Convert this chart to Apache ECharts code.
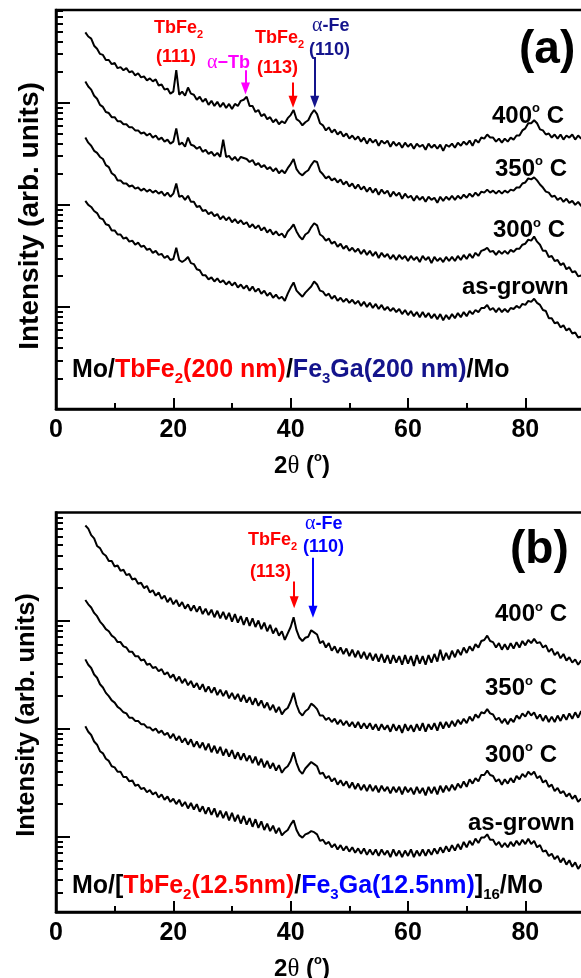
<!DOCTYPE html>
<html><head><meta charset="utf-8">
<script src="https://cdn.jsdelivr.net/npm/echarts@6/dist/echarts.min.js"></script>
<style>html,body{margin:0;padding:0;background:#fff;}#c{width:581px;height:978px;}</style>
</head><body><div id="c"></div>
<script>
// 2theta scan grid (degrees)
const twoTheta = [5,5.5,6,6.5,7,7.5,8,8.5,9,9.5,10,10.5,11,11.5,12,12.5,13,13.5,14,14.5,15,15.5,16,16.5,17,17.5,18,18.5,19,19.5,20,20.5,21,21.5,22,22.5,23,23.5,24,24.5,25,25.5,26,26.5,27,27.5,28,28.5,29,29.5,30,30.5,31,31.5,32,32.5,33,33.5,34,34.5,35,35.5,36,36.5,37,37.5,38,38.5,39,39.5,40,40.5,41,41.5,42,42.5,43,43.5,44,44.5,45,45.5,46,46.5,47,47.5,48,48.5,49,49.5,50,50.5,51,51.5,52,52.5,53,53.5,54,54.5,55,55.5,56,56.5,57,57.5,58,58.5,59,59.5,60,60.5,61,61.5,62,62.5,63,63.5,64,64.5,65,65.5,66,66.5,67,67.5,68,68.5,69,69.5,70,70.5,71,71.5,72,72.5,73,73.5,74,74.5,75,75.5,76,76.5,77,77.5,78,78.5,79,79.5,80,80.5,81,81.5,82,82.5,83,83.5,84,84.5,85,85.5,86,86.5,87,87.5,88,88.5,89,89.5,90];

// Panel (a): log10 intensity (offset curves)
const a400 = [3.69,3.65,3.63,3.56,3.53,3.48,3.47,3.42,3.42,3.38,3.39,3.34,3.35,3.32,3.34,3.30,3.31,3.27,3.29,3.25,3.26,3.22,3.24,3.21,3.23,3.17,3.18,3.13,3.14,3.09,3.11,3.32,3.08,3.11,3.07,3.15,3.09,3.08,3.03,3.06,3.01,3.04,2.98,3.02,2.97,3.01,2.96,3.00,2.95,2.99,2.94,2.99,2.97,3.02,3.03,3.06,2.97,2.97,2.91,2.93,2.87,2.89,2.84,2.86,2.81,2.84,2.79,2.82,2.80,2.85,2.88,2.93,2.84,2.82,2.78,2.81,2.83,2.89,2.93,2.89,2.80,2.78,2.73,2.76,2.71,2.74,2.69,2.72,2.67,2.70,2.65,2.68,2.64,2.67,2.62,2.66,2.60,2.65,2.61,2.64,2.58,2.63,2.60,2.63,2.57,2.62,2.58,2.61,2.56,2.61,2.57,2.60,2.55,2.60,2.57,2.59,2.54,2.60,2.56,2.59,2.55,2.59,2.53,2.59,2.57,2.60,2.56,2.61,2.58,2.62,2.59,2.63,2.58,2.64,2.61,2.66,2.65,2.69,2.66,2.66,2.62,2.65,2.61,2.65,2.62,2.66,2.64,2.68,2.68,2.73,2.75,2.80,2.80,2.83,2.80,2.74,2.73,2.69,2.70,2.66,2.69,2.65,2.69,2.64,2.68,2.66,2.69,2.64,2.68,2.65,2.67];
const a350 = [3.21,3.16,3.13,3.07,3.04,2.98,2.96,2.91,2.90,2.86,2.86,2.82,2.82,2.79,2.79,2.76,2.76,2.73,2.73,2.70,2.71,2.68,2.70,2.66,2.68,2.64,2.66,2.62,2.64,2.60,2.62,2.75,2.59,2.61,2.57,2.66,2.59,2.58,2.55,2.57,2.52,2.54,2.50,2.52,2.48,2.51,2.47,2.64,2.47,2.48,2.44,2.47,2.43,2.47,2.46,2.45,2.42,2.44,2.39,2.41,2.37,2.39,2.35,2.37,2.33,2.36,2.31,2.34,2.31,2.36,2.40,2.45,2.35,2.31,2.29,2.32,2.34,2.39,2.43,2.42,2.33,2.30,2.26,2.28,2.24,2.26,2.22,2.25,2.20,2.23,2.18,2.21,2.16,2.20,2.15,2.18,2.13,2.17,2.12,2.16,2.10,2.15,2.11,2.14,2.08,2.13,2.09,2.12,2.06,2.11,2.07,2.09,2.04,2.09,2.05,2.08,2.03,2.08,2.05,2.07,2.02,2.08,2.04,2.08,2.05,2.09,2.05,2.09,2.06,2.10,2.07,2.11,2.08,2.12,2.09,2.13,2.12,2.15,2.12,2.14,2.11,2.14,2.11,2.14,2.12,2.15,2.14,2.17,2.17,2.21,2.22,2.26,2.25,2.27,2.24,2.20,2.17,2.13,2.12,2.08,2.09,2.05,2.07,2.03,2.06,2.02,2.04,2.00,2.03,1.99,2.01];
const a300 = [2.66,2.61,2.58,2.53,2.51,2.47,2.45,2.39,2.37,2.31,2.29,2.24,2.24,2.21,2.21,2.18,2.19,2.16,2.17,2.14,2.16,2.13,2.15,2.12,2.14,2.11,2.13,2.09,2.12,2.08,2.11,2.21,2.08,2.09,2.05,2.09,2.03,2.03,1.98,1.99,1.94,1.95,1.91,1.93,1.89,1.91,1.86,1.89,1.85,1.88,1.83,1.86,1.82,1.85,1.81,1.83,1.78,1.81,1.77,1.80,1.75,1.78,1.73,1.76,1.71,1.74,1.70,1.72,1.68,1.74,1.77,1.81,1.74,1.69,1.66,1.71,1.73,1.78,1.82,1.80,1.71,1.69,1.65,1.67,1.62,1.64,1.59,1.62,1.57,1.60,1.55,1.58,1.54,1.57,1.52,1.56,1.51,1.55,1.50,1.54,1.48,1.53,1.49,1.52,1.47,1.51,1.46,1.51,1.47,1.50,1.45,1.50,1.46,1.49,1.44,1.50,1.46,1.49,1.43,1.49,1.45,1.48,1.44,1.49,1.45,1.49,1.45,1.50,1.46,1.51,1.47,1.52,1.48,1.53,1.50,1.55,1.56,1.58,1.54,1.55,1.51,1.55,1.52,1.55,1.52,1.56,1.54,1.57,1.57,1.61,1.62,1.66,1.65,1.69,1.64,1.61,1.55,1.55,1.49,1.50,1.45,1.46,1.41,1.43,1.37,1.39,1.34,1.35,1.30,1.31,1.28];
const aAsGrown = [2.04,2.00,1.98,1.94,1.92,1.87,1.86,1.81,1.80,1.75,1.75,1.71,1.71,1.67,1.68,1.64,1.65,1.61,1.63,1.59,1.60,1.56,1.57,1.53,1.55,1.51,1.52,1.48,1.50,1.46,1.47,1.58,1.46,1.44,1.46,1.49,1.43,1.42,1.37,1.36,1.31,1.31,1.27,1.29,1.25,1.28,1.24,1.26,1.22,1.25,1.21,1.24,1.19,1.22,1.18,1.21,1.16,1.20,1.15,1.18,1.13,1.16,1.11,1.14,1.09,1.12,1.08,1.10,1.06,1.13,1.19,1.24,1.16,1.13,1.10,1.14,1.17,1.20,1.25,1.22,1.16,1.15,1.11,1.13,1.08,1.11,1.06,1.09,1.05,1.08,1.04,1.07,1.03,1.06,1.01,1.05,1.00,1.04,0.99,1.03,0.98,1.02,0.97,1.00,0.96,0.99,0.95,0.98,0.93,0.97,0.92,0.96,0.91,0.95,0.90,0.95,0.90,0.94,0.89,0.93,0.88,0.93,0.87,0.92,0.88,0.93,0.89,0.94,0.90,0.95,0.91,0.96,0.93,0.97,0.95,0.99,0.99,1.02,0.97,0.99,0.95,0.99,0.95,0.98,0.95,0.99,0.98,1.01,0.99,1.03,1.02,1.06,1.05,1.08,1.04,1.02,0.97,0.96,0.89,0.89,0.84,0.85,0.80,0.82,0.77,0.79,0.74,0.75,0.70,0.71,0.67];

// Panel (b): log10 intensity (offset curves)
const b400 = [2.88,2.85,2.79,2.76,2.69,2.67,2.62,2.60,2.55,2.55,2.50,2.51,2.46,2.47,2.42,2.43,2.38,2.39,2.34,2.35,2.30,2.32,2.26,2.28,2.23,2.26,2.20,2.23,2.17,2.21,2.15,2.19,2.13,2.17,2.11,2.15,2.09,2.14,2.08,2.13,2.06,2.11,2.05,2.10,2.03,2.09,2.02,2.08,2.01,2.07,1.99,2.06,1.98,2.04,1.96,2.03,1.95,2.02,1.94,2.00,1.92,1.98,1.90,1.96,1.88,1.93,1.86,1.90,1.82,1.88,1.94,2.03,1.91,1.84,1.81,1.84,1.85,1.91,1.89,1.87,1.79,1.81,1.75,1.79,1.72,1.76,1.70,1.75,1.69,1.74,1.67,1.73,1.66,1.72,1.65,1.71,1.64,1.70,1.63,1.69,1.62,1.69,1.61,1.68,1.60,1.68,1.61,1.67,1.59,1.68,1.60,1.67,1.58,1.68,1.60,1.67,1.59,1.68,1.61,1.69,1.62,1.73,1.63,1.70,1.64,1.72,1.66,1.73,1.68,1.75,1.70,1.76,1.72,1.78,1.75,1.81,1.82,1.86,1.81,1.80,1.75,1.79,1.73,1.78,1.73,1.79,1.74,1.80,1.75,1.81,1.77,1.82,1.79,1.83,1.79,1.80,1.75,1.77,1.71,1.74,1.68,1.71,1.65,1.69,1.63,1.66,1.61,1.64,1.59,1.63,1.58];
const b350 = [2.19,2.15,2.12,2.07,2.04,1.99,1.96,1.92,1.90,1.86,1.84,1.80,1.80,1.76,1.75,1.71,1.71,1.67,1.67,1.63,1.64,1.59,1.60,1.56,1.57,1.53,1.55,1.50,1.52,1.47,1.50,1.44,1.48,1.42,1.46,1.40,1.44,1.38,1.42,1.36,1.41,1.34,1.39,1.33,1.38,1.31,1.36,1.30,1.35,1.28,1.33,1.27,1.32,1.25,1.31,1.24,1.29,1.22,1.28,1.21,1.26,1.19,1.24,1.17,1.22,1.15,1.20,1.13,1.17,1.19,1.25,1.33,1.22,1.15,1.12,1.16,1.18,1.23,1.21,1.18,1.12,1.12,1.08,1.10,1.06,1.09,1.04,1.08,1.03,1.07,1.02,1.06,1.01,1.06,1.00,1.05,1.00,1.05,0.99,1.04,0.98,1.04,0.99,1.03,0.97,1.04,0.98,1.03,0.96,1.04,0.98,1.03,0.97,1.04,0.98,1.05,0.97,1.04,0.99,1.05,0.98,1.06,1.00,1.06,1.01,1.07,1.02,1.08,1.04,1.09,1.05,1.11,1.07,1.13,1.10,1.15,1.14,1.18,1.14,1.13,1.08,1.10,1.05,1.09,1.04,1.09,1.06,1.12,1.09,1.14,1.11,1.16,1.12,1.15,1.09,1.13,1.07,1.12,1.06,1.11,1.06,1.12,1.07,1.13,1.08,1.14,1.09,1.15,1.10,1.16,1.11];
const b300 = [1.64,1.59,1.56,1.50,1.47,1.41,1.38,1.33,1.30,1.26,1.24,1.20,1.18,1.15,1.14,1.10,1.10,1.07,1.07,1.04,1.04,1.01,1.01,0.98,1.00,0.96,0.98,0.94,0.96,0.91,0.95,0.89,0.93,0.87,0.91,0.85,0.90,0.83,0.88,0.82,0.87,0.80,0.86,0.78,0.84,0.77,0.83,0.75,0.81,0.74,0.80,0.72,0.78,0.71,0.77,0.70,0.75,0.68,0.74,0.66,0.72,0.64,0.70,0.63,0.68,0.61,0.66,0.59,0.63,0.65,0.70,0.78,0.68,0.61,0.58,0.63,0.66,0.69,0.67,0.65,0.58,0.59,0.54,0.56,0.51,0.54,0.48,0.52,0.47,0.51,0.45,0.50,0.44,0.49,0.43,0.48,0.42,0.48,0.42,0.47,0.41,0.47,0.42,0.46,0.40,0.46,0.41,0.46,0.39,0.46,0.41,0.45,0.39,0.46,0.40,0.45,0.38,0.46,0.40,0.46,0.39,0.47,0.41,0.47,0.42,0.48,0.43,0.49,0.45,0.51,0.46,0.53,0.49,0.54,0.51,0.57,0.57,0.61,0.57,0.56,0.51,0.53,0.48,0.53,0.49,0.54,0.50,0.56,0.53,0.58,0.55,0.60,0.57,0.60,0.54,0.56,0.50,0.52,0.46,0.48,0.42,0.45,0.40,0.42,0.37,0.40,0.35,0.38,0.32,0.35,0.31];
const bAsGrown = [1.02,0.97,0.94,0.88,0.85,0.79,0.77,0.72,0.70,0.65,0.64,0.60,0.60,0.55,0.55,0.51,0.52,0.47,0.48,0.44,0.45,0.41,0.43,0.39,0.41,0.36,0.39,0.34,0.37,0.32,0.35,0.30,0.34,0.28,0.32,0.26,0.31,0.25,0.30,0.23,0.28,0.21,0.27,0.20,0.26,0.18,0.24,0.17,0.23,0.15,0.22,0.14,0.20,0.12,0.19,0.11,0.17,0.09,0.16,0.08,0.14,0.06,0.12,0.05,0.10,0.03,0.08,0.01,0.04,0.06,0.11,0.15,0.06,0.01,-0.01,0.02,0.03,0.05,0.04,0.02,-0.04,-0.03,-0.07,-0.05,-0.10,-0.07,-0.12,-0.08,-0.13,-0.09,-0.14,-0.10,-0.15,-0.11,-0.16,-0.11,-0.17,-0.12,-0.17,-0.12,-0.18,-0.12,-0.17,-0.13,-0.19,-0.12,-0.18,-0.13,-0.19,-0.13,-0.18,-0.12,-0.19,-0.13,-0.18,-0.12,-0.18,-0.12,-0.17,-0.11,-0.16,-0.10,-0.15,-0.09,-0.14,-0.08,-0.13,-0.07,-0.12,-0.05,-0.10,-0.04,-0.08,-0.02,-0.06,-0.01,-0.01,0.02,-0.03,-0.03,-0.08,-0.05,-0.10,-0.06,-0.10,-0.05,-0.09,-0.04,-0.08,-0.03,-0.07,-0.02,-0.07,-0.04,-0.10,-0.08,-0.14,-0.13,-0.18,-0.16,-0.21,-0.18,-0.24,-0.20,-0.26,-0.22,-0.28,-0.24,-0.30,-0.26,-0.31];

// axis ticks
const xLabelTicks = [0, 20, 40, 60, 80];
const xMinorTicks = [10, 30, 50, 70];
const yMajorA = [1, 2, 3];
const yMajorB = [0, 1, 2];
const yRangeA = [0, 3.91];
const yRangeB = [-0.699, 3];

// peak marker arrows: [2theta, top, bottom]
const arrowsA = [
  {x: 32.3, from: 3.32, to: 3.14, color: '#ff00ff'},
  {x: 40.4, from: 3.20, to: 3.01, color: '#ff0000'},
  {x: 44.1, from: 3.45, to: 3.01, color: '#14148c'}
];
const arrowsB = [
  {x: 40.6, from: 2.36, to: 2.17, color: '#ff0000'},
  {x: 43.8, from: 2.58, to: 2.08, color: '#0000ff'}
];

const F = '"Liberation Sans", Arial, sans-serif';
const SERIF = '"Liberation Serif", "Times New Roman", serif';
const RED = '#ff0000', MAG = '#ff00ff', NAVY = '#14148c', BLUE = '#0000ff', BLK = '#000';

function logMinor(lo, hi) {
  const out = [];
  for (let d = Math.floor(lo) - 1; d <= Math.ceil(hi); d++) {
    for (let m = 2; m <= 9; m++) {
      const v = d + Math.log10(m);
      if (v > lo + 1e-4 && v < hi - 1e-4) out.push(v);
    }
  }
  return out;
}

function axesFor(gi, yRange, yMajor) {
  const x = [
    {gridIndex: gi, type: 'value', position: 'bottom', min: 0, max: 90,
     axisLine: {show: true, onZero: false, lineStyle: {color: BLK, width: 2.5}},
     axisTick: {show: true, inside: true, length: 11, lineStyle: {color: BLK, width: 2}, customValues: xLabelTicks},
     axisLabel: {show: true, customValues: xLabelTicks, color: BLK, fontSize: 25, fontWeight: 'bold', fontFamily: F, margin: 9},
     splitLine: {show: false}},
    {gridIndex: gi, type: 'value', position: 'bottom', min: 0, max: 90,
     axisLine: {show: false, onZero: false},
     axisTick: {show: true, inside: true, length: 6, lineStyle: {color: BLK, width: 2}, customValues: xMinorTicks},
     axisLabel: {show: false}, splitLine: {show: false}}
  ];
  const y = [
    {gridIndex: gi, type: 'value', position: 'left', min: yRange[0], max: yRange[1],
     axisLine: {show: true, onZero: false, lineStyle: {color: BLK, width: 2.5}},
     axisTick: {show: true, inside: true, length: 14, lineStyle: {color: BLK, width: 2}, customValues: yMajor},
     axisLabel: {show: false}, splitLine: {show: false}},
    {gridIndex: gi, type: 'value', position: 'left', min: yRange[0], max: yRange[1],
     axisLine: {show: false, onZero: false},
     axisTick: {show: true, inside: true, length: 7, lineStyle: {color: BLK, width: 2}, customValues: logMinor(yRange[0], yRange[1])},
     axisLabel: {show: false}, splitLine: {show: false}}
  ];
  return {x, y};
}

const axA = axesFor(0, yRangeA, yMajorA);
const axB = axesFor(1, yRangeB, yMajorB);

function lineSeries(name, vals, gi, arrows) {
  const s = {
    name, type: 'line', xAxisIndex: gi * 2, yAxisIndex: gi * 2,
    data: twoTheta.map((t, i) => [t, vals[i]]),
    symbol: 'none', silent: true, animation: false, clip: true,
    lineStyle: {color: BLK, width: 2}
  };
  if (arrows) {
    s.markLine = {
      silent: true, animation: false, symbol: ['none', 'triangle'], symbolSize: [9, 12],
      label: {show: false},
      data: arrows.map(a => [
        {coord: [a.x, a.from], lineStyle: {color: a.color, width: 2, type: 'solid'}, itemStyle: {color: a.color}},
        {coord: [a.x, a.to]}
      ])
    };
  }
  return s;
}

function rs(size, color, extra) {
  return Object.assign({fontSize: size, fontWeight: 'bold', fontFamily: F, fill: color, color: color, lineHeight: Math.round(size * 1.2)}, extra || {});
}
function sub(size, color) { return rs(size, color, {lineHeight: size, verticalAlign: 'bottom'}); }
function sup(size, color) { return rs(size, color, {lineHeight: size, verticalAlign: 'top'}); }
function greek(size, color) { return {fontSize: size, fontWeight: 'normal', fontFamily: SERIF, fill: color, color: color, lineHeight: Math.round(size * 1.2)}; }

function txt(x, y, text, rich, opt) {
  opt = opt || {};
  return {
    type: 'text', x, y, rotation: opt.rotation || 0, silent: true, z: 100,
    style: {text, rich, align: opt.align || 'left', verticalAlign: 'middle',
            textAlign: opt.align || 'left', textVerticalAlign: 'middle',
            fontSize: 18, fontWeight: 'bold', fontFamily: F}
  };
}

function tempLabel(x, y, t) {
  return txt(x, y, '{n|' + t + '}{o|o}{n| C}', {n: rs(24, BLK, {lineHeight: 28}), o: sup(13, BLK)});
}

const graphics = [
  // panel (a)
  txt(154, 28, '{m|TbFe}{s|2}', {m: rs(18, RED, {lineHeight: 24}), s: sub(11, RED)}),
  txt(156, 57, '{m|(111)}', {m: rs(18, RED)}),
  txt(207, 63, '{g|α}{m|−Tb}', {g: greek(20, MAG), m: rs(18, MAG)}),
  txt(255, 38.5, '{m|TbFe}{s|2}', {m: rs(18, RED, {lineHeight: 24}), s: sub(11, RED)}),
  txt(257, 68.5, '{m|(113)}', {m: rs(18, RED)}),
  txt(312, 26, '{g|α}{m|-Fe}', {g: greek(20, NAVY), m: rs(18, NAVY)}),
  txt(309, 50, '{m|(110)}', {m: rs(18, NAVY)}),
  txt(519, 50, '{m|(a)}', {m: rs(46, BLK)}),
  tempLabel(492, 116, '400'),
  tempLabel(495, 169, '350'),
  tempLabel(493, 230.5, '300'),
  txt(462, 287, '{n|as-grown}', {n: rs(24, BLK)}),
  txt(72, 370, '{k|Mo/}{r|TbFe}{rs|2}{r|(200 nm)}{k|/}{b|Fe}{bs|3}{b|Ga(200 nm)}{k|/Mo}',
      {k: rs(25, BLK, {lineHeight: 32}), r: rs(25, RED, {lineHeight: 32}), rs: sub(15, RED),
       b: rs(25, NAVY, {lineHeight: 32}), bs: sub(15, NAVY)}),
  txt(30, 216, '{n|Intensity (arb. units)}', {n: rs(28, BLK)}, {rotation: Math.PI / 2, align: 'center'}),
  txt(302, 466, '{n|2}{g|θ}{n| (}{o|o}{n|)}', {n: rs(24, BLK, {lineHeight: 28}), g: greek(25, BLK), o: sup(13, BLK)}, {align: 'center'}),
  // panel (b)
  txt(248, 540, '{m|TbFe}{s|2}', {m: rs(18, RED, {lineHeight: 24}), s: sub(11, RED)}),
  txt(250, 572, '{m|(113)}', {m: rs(18, RED)}),
  txt(305, 524, '{g|α}{m|-Fe}', {g: greek(20, BLUE), m: rs(18, BLUE)}),
  txt(303, 547, '{m|(110)}', {m: rs(18, BLUE)}),
  txt(510, 550, '{m|(b)}', {m: rs(46, BLK)}),
  tempLabel(495, 614.5, '400'),
  tempLabel(485, 688.5, '350'),
  tempLabel(485, 755, '300'),
  txt(468, 823, '{n|as-grown}', {n: rs(24, BLK)}),
  txt(72, 886.5, '{k|Mo/[}{r|TbFe}{rs|2}{r|(12.5nm)}{k|/}{b|Fe}{bs|3}{b|Ga(12.5nm)}{k|]}{ks|16}{k|/Mo}',
      {k: rs(25, BLK, {lineHeight: 32}), ks: sub(15, BLK), r: rs(25, RED, {lineHeight: 32}), rs: sub(15, RED),
       b: rs(25, BLUE, {lineHeight: 32}), bs: sub(15, BLUE)}),
  txt(27, 715, '{n|Intensity (arb. units)}', {n: rs(25.5, BLK)}, {rotation: Math.PI / 2, align: 'center'}),
  txt(302, 969, '{n|2}{g|θ}{n| (}{o|o}{n|)}', {n: rs(24, BLK, {lineHeight: 28}), g: greek(25, BLK), o: sup(13, BLK)}, {align: 'center'})
];

const chart = echarts.init(document.getElementById('c'), null, {renderer: 'canvas'});
chart.setOption({
  animation: false,
  backgroundColor: '#fff',
  grid: [
    {left: 56, top: 10, right: -3, height: 399, show: true, borderColor: BLK, borderWidth: 2.5, backgroundColor: 'transparent', containLabel: false, outerBoundsMode: 'none'},
    {left: 56, top: 512.5, right: -3, height: 399.5, show: true, borderColor: BLK, borderWidth: 2.5, backgroundColor: 'transparent', containLabel: false, outerBoundsMode: 'none'}
  ],
  xAxis: axA.x.concat(axB.x),
  yAxis: axA.y.concat(axB.y),
  series: [
    lineSeries('400° C', a400, 0, arrowsA),
    lineSeries('350° C', a350, 0),
    lineSeries('300° C', a300, 0),
    lineSeries('as-grown', aAsGrown, 0),
    lineSeries('400° C', b400, 1, arrowsB),
    lineSeries('350° C', b350, 1),
    lineSeries('300° C', b300, 1),
    lineSeries('as-grown', bAsGrown, 1)
  ],
  graphic: graphics
});
</script>
</body></html>
